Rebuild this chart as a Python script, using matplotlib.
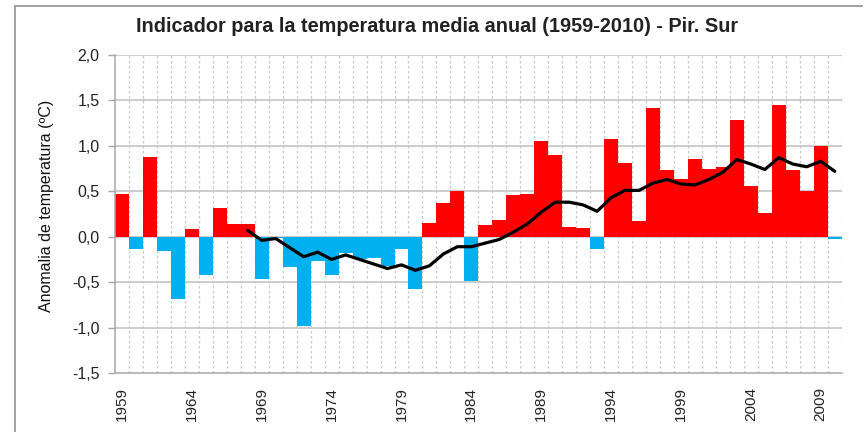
import matplotlib
matplotlib.use("Agg")
import matplotlib.pyplot as plt
from matplotlib.lines import Line2D
import numpy as np

years = list(range(1959, 2011))
anomalies = [0.47, -0.13, 0.88, -0.16, -0.69, 0.08, -0.42, 0.32, 0.14, 0.14,
             -0.46, -0.01, -0.33, -0.98, -0.27, -0.42, -0.18, -0.25, -0.23, -0.32,
             -0.14, -0.57, 0.15, 0.37, 0.50, -0.49, 0.13, 0.18, 0.46, 0.47,
             1.05, 0.90, 0.11, 0.10, -0.13, 1.08, 0.81, 0.17, 1.42, 0.73,
             0.63, 0.85, 0.74, 0.77, 1.29, 0.56, 0.26, 1.45, 0.73, 0.50,
             1.00, -0.03]
line_years = list(range(1968, 2011))
running_mean = [0.07, -0.04, -0.02, -0.12, -0.22, -0.17, -0.25, -0.20, -0.25, -0.30,
                -0.35, -0.31, -0.37, -0.32, -0.19, -0.11, -0.11, -0.07, -0.03, 0.05,
                0.14, 0.27, 0.38, 0.38, 0.35, 0.28, 0.43, 0.51, 0.51, 0.59,
                0.63, 0.58, 0.57, 0.63, 0.71, 0.85, 0.80, 0.74, 0.87, 0.80,
                0.77, 0.83, 0.72]
xtick_years = list(range(1959, 2011, 5))
yticks = [-1.5, -1.0, -0.5, 0.0, 0.5, 1.0, 1.5, 2.0]
ytick_labels = ["-1,5", "-1,0", "-0,5", "0,0", "0,5", "1,0", "1,5", "2,0"]
title = "Indicador para la temperatura media anual (1959-2010) - Pir. Sur"
ylabel = "Anomalia de temperatura (ºC)"

plt.rcParams['font.family'] = ['Liberation Sans', 'DejaVu Sans']

W, H = 865, 432
fig = plt.figure(figsize=(W / 100, H / 100), dpi=100)
ax = fig.add_axes([115 / W, 1 - 373 / H, (841.7 - 115) / W, (373 - 55) / H])

x = np.arange(len(years))
colors = ['#FF0000' if v >= 0 else '#00B0F0' for v in anomalies]
ax.bar(x, anomalies, width=1.0, color=colors, zorder=3, linewidth=0)

lx = [years.index(y) for y in line_years]
ax.plot(lx, running_mean, color='black', lw=2.3, zorder=4, solid_capstyle='round')

ax.set_xlim(-0.5, len(years) - 0.5)
ax.set_ylim(-1.5, 2.0)

# grid
for yv in yticks[1:]:
    ax.axhline(yv, color='#BEBEBE', lw=1.1, zorder=1)
for k in range(len(years)):
    ax.axvline(k + 0.5, color='#C8C8C8', lw=0.9, ls=(0, (2, 2)), zorder=1)

ax.set_yticks(yticks)
ax.set_yticklabels(ytick_labels)
ax.set_xticks([years.index(y) for y in xtick_years])
ax.set_xticklabels([str(y) for y in xtick_years], rotation=90, va='top')

ax.tick_params(axis='y', length=5, width=1, color='#A8A8A8', pad=6, labelsize=11.5,
               labelcolor='#222222')
ax.tick_params(axis='x', length=0, pad=10, labelsize=11, labelcolor='#222222')

for s in ['top', 'right']:
    ax.spines[s].set_visible(False)
for s in ['left', 'bottom']:
    ax.spines[s].set_color('#A8A8A8')
    ax.spines[s].set_linewidth(1.1)
    ax.spines[s].set_zorder(5)

fig.text(47 / W, 1 - 206 / H, ylabel, rotation=90, ha='center', va='center',
         fontsize=11.5, color='#111111')

fig.text(437 / W, 1 - 27 / H, title, ha='center', va='center', fontsize=14.3,
         fontweight='bold', color='#222222')

# outer chart border
fig.add_artist(Line2D([15 / W, 15 / W], [0, 1 - 6 / H], transform=fig.transFigure,
                      color='#9A9A9A', lw=1.3))
fig.add_artist(Line2D([15 / W, 862 / W], [1 - 6 / H, 1 - 6 / H], transform=fig.transFigure,
                      color='#9A9A9A', lw=1.3))

fig.savefig('out.png', dpi=100)
